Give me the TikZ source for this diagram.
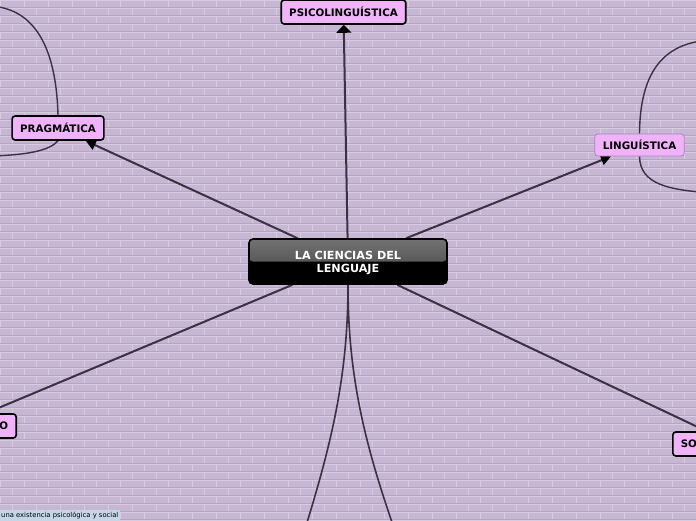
\documentclass[tikz,border=0pt]{standalone}
\usepackage{fontspec}
\setsansfont{DejaVu Sans}
\usetikzlibrary{arrows.meta}
\definecolor{wallBg}{RGB}{199,182,212}
\definecolor{wallLight}{RGB}{216,203,226}
\definecolor{wallDark}{RGB}{182,164,197}
\definecolor{topicPink}{RGB}{240,178,248}
\definecolor{topicEdge}{RGB}{176,128,196}
\definecolor{linkDark}{RGB}{60,48,66}
\definecolor{noteBlue}{RGB}{198,214,232}
\tikzstyle{topicStyle}=[shape = rectangle, rounded corners = 3pt, draw = black, line width = 1.6pt, fill = topicPink, minimum height = 24pt, inner xsep = 8pt, inner ysep = 0pt, font = \sffamily\bfseries\fontsize{10.3}{12}\selectfont]
\tikzstyle{topicLight}=[topicStyle, draw = topicEdge, line width = 0.8pt, minimum height = 22pt]
\tikzstyle{rootStyle}=[shape = rectangle, rounded corners = 4pt, draw = black, line width = 1.6pt, fill = black, text = white, minimum width = 198pt, minimum height = 45pt, align = center, font = \sffamily\bfseries\fontsize{11.2}{13}\selectfont, path picture = {\shade[top color = black!55, bottom color = black!75] (path picture bounding box.north west) rectangle (path picture bounding box.east);}]
\tikzstyle{noteStyle}=[shape = rectangle, fill = noteBlue, inner xsep = 2pt, inner ysep = 2pt, font = \sffamily\fontsize{6.8}{8}\selectfont]
\tikzstyle{linkStyle}=[draw = linkDark, line width = 2pt]
\pgfdeclarelayer{wall}
\pgfdeclarelayer{links}
\pgfsetlayers{wall,links,main}

\begin{document}
\begin{tikzpicture}[x = 1pt, y = -1pt]
\useasboundingbox (0,0) rectangle (696,520);
\begin{pgfonlayer}{wall}
\fill[wallBg] (0,0) rectangle (696,520);
\foreach \r in {0,...,65} {
  \draw[wallLight, line width = 0.8pt] (0,8*\r) -- (696,8*\r);
  \draw[wallDark, line width = 0.6pt] (0,8*\r+6.8) -- (696,8*\r+6.8);
  \pgfmathsetmacro{\shift}{12*mod(\r,2)}
  \foreach \c in {-1,...,29} {
    \draw[wallLight, line width = 0.8pt] (24*\c+\shift,8*\r) -- ++(0,7);
  }
}
\end{pgfonlayer}
\node[rootStyle] (v0) at (348,261.5) {\rule{0pt}{11pt}LA CIENCIAS DEL\\LENGUAJE};
\node[topicStyle] (v1) at (343.5,12) {PSICOLINGUÍSTICA};
\node[topicStyle] (v2) at (58,128) {PRAGMÁTICA};
\node[topicLight] (v3) at (639.5,145) {LINGUÍSTICA};
\node[topicStyle, text width = 44pt, align = right, anchor = east] (v4) at (17,426) {O};
\node[topicStyle, text width = 44pt, align = left, anchor = west] (v5) at (672,444) {SO};
\node[noteStyle, anchor = north west] (v6) at (-1,510) {una existencia psicológica y social};
\coordinate (p1) at (-10,6);
\coordinate (p2) at (-10,156);
\coordinate (l1) at (712,40);
\coordinate (l2) at (712,193);
\coordinate (b1) at (300,545);
\coordinate (b2) at (400,545);
\begin{pgfonlayer}{links}
\draw[linkStyle, -{Triangle[width = 15pt, length = 8pt, color = black]}] (v0) -- (v1);
\draw[linkStyle, -{Triangle[width = 10pt, length = 10pt, color = black]}] (v0) -- (v2);
\draw[linkStyle, -{Triangle[width = 10pt, length = 10pt, color = black]}] (v0) -- (v3);
\draw[linkStyle] (v0) -- (v4.west);
\draw[linkStyle] (v0) -- (v5.east);
%\draw[linkStyle] (v0.south) -- (b1);
\draw[linkStyle, line width = 1.6pt] (v0.south) .. controls (348,380) and (330,450) .. (b1);
\draw[linkStyle, line width = 1.6pt] (v0.south) .. controls (348,380) and (366,450) .. (b2);
\draw[linkStyle, line width = 1.4pt] (v2.north) .. controls (56,40) and (30,8) .. (p1);
\draw[linkStyle, line width = 1.4pt] (v2.south) .. controls (50,150) and (30,155) .. (p2);
\draw[linkStyle, line width = 1.4pt] (v3.north) .. controls (640,70) and (665,42) .. (l1);
\draw[linkStyle, line width = 1.4pt] (v3.south) .. controls (640,185) and (670,190) .. (l2);
\end{pgfonlayer}
\end{tikzpicture}
\end{document}
